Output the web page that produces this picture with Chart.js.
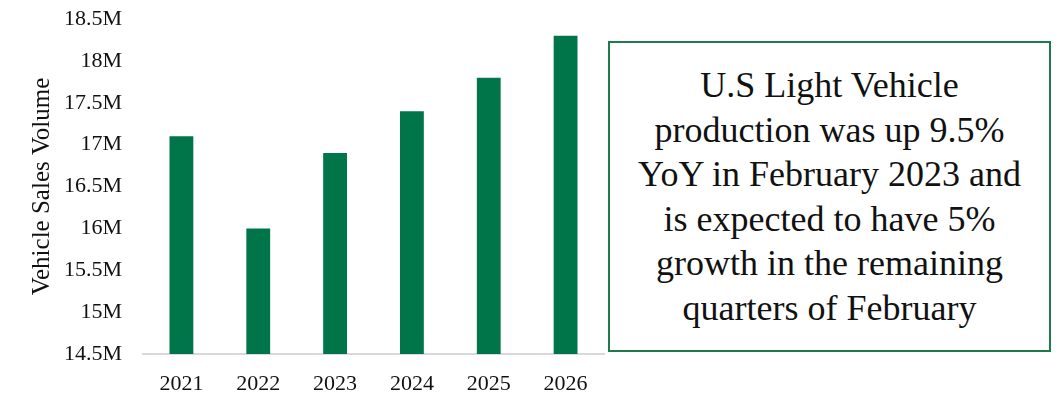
<!DOCTYPE html>
<html>
<head>
<meta charset="utf-8">
<script src="https://cdn.jsdelivr.net/npm/chart.js@4"></script>
<style>
  html, body { margin: 0; padding: 0; background: #fff; }
  body { width: 1064px; height: 397px; position: relative; overflow: hidden; }
  #chartWrap { position: absolute; left: 0; top: 0; width: 606px; height: 397px; }
  #noteBox {
    position: absolute; left: 608px; top: 41px; width: 439px; height: 307px;
    border: 2px solid #1e7b4b;
    display: flex; align-items: center; justify-content: center;
    font-family: "Liberation Serif", serif; font-size: 36px; line-height: 44.5px;
    text-align: center; color: #111;
  }
</style>
</head>
<body>
<div id="chartWrap"><canvas id="salesChart"></canvas></div>
<div id="noteBox">
  <div>U.S Light Vehicle<br>production was up 9.5%<br>YoY in February 2023 and<br>is expected to have 5%<br>growth in the remaining<br>quarters of February</div>
</div>
<script>
// Datos
const years = ['2021', '2022', '2023', '2024', '2025', '2026'];
const salesVolume = [17.1, 16.0, 16.9, 17.4, 17.8, 18.3]; // millones
const yMin = 14.5;
const yMax = 18.5;
const yStep = 0.5;

const fontFamily = '"Liberation Serif", serif';

const ctx = document.getElementById('salesChart').getContext('2d');
const salesChart = new Chart(ctx, {
    type: 'bar',
    data: {
        labels: years,
        datasets: [{
            label: 'Vehicle Sales Volume',
            data: salesVolume,
            backgroundColor: '#00754a',
            borderWidth: 0,
            barPercentage: 0.31,
            categoryPercentage: 1
        }]
    },
    options: {
        responsive: true,
        maintainAspectRatio: false,
        animation: false,
        layout: { padding: { top: 19, right: 2, bottom: 0, left: 0 } },
        plugins: {
            legend: { display: false },
            tooltip: { enabled: false }
        },
        scales: {
            x: {
                grid: { display: false, drawTicks: false },
                border: { display: true, color: '#d9d9d9', width: 2 },
                ticks: {
                    color: '#111',
                    padding: 17,
                    font: { family: fontFamily, size: 22 }
                },
                afterFit: function(scale) { scale.height = 43; }
            },
            y: {
                min: yMin,
                max: yMax,
                grid: { display: false, drawTicks: false },
                border: { display: false },
                ticks: {
                    stepSize: yStep,
                    color: '#111',
                    padding: 21,
                    font: { family: fontFamily, size: 22 },
                    callback: function(value) { return value + 'M'; }
                },
                title: {
                    display: true,
                    text: 'Vehicle Sales Volume',
                    color: '#111',
                    font: { family: fontFamily, size: 25 },
                    padding: { top: 27, bottom: 0 }
                },
                afterFit: function(scale) {
                    scale.width = 143;
                    // el padding de ticks no debe empujar el área del gráfico
                    scale.paddingTop = 0;
                    scale.paddingBottom = 0;
                }
            }
        }
    }
});
</script>
</body>
</html>
